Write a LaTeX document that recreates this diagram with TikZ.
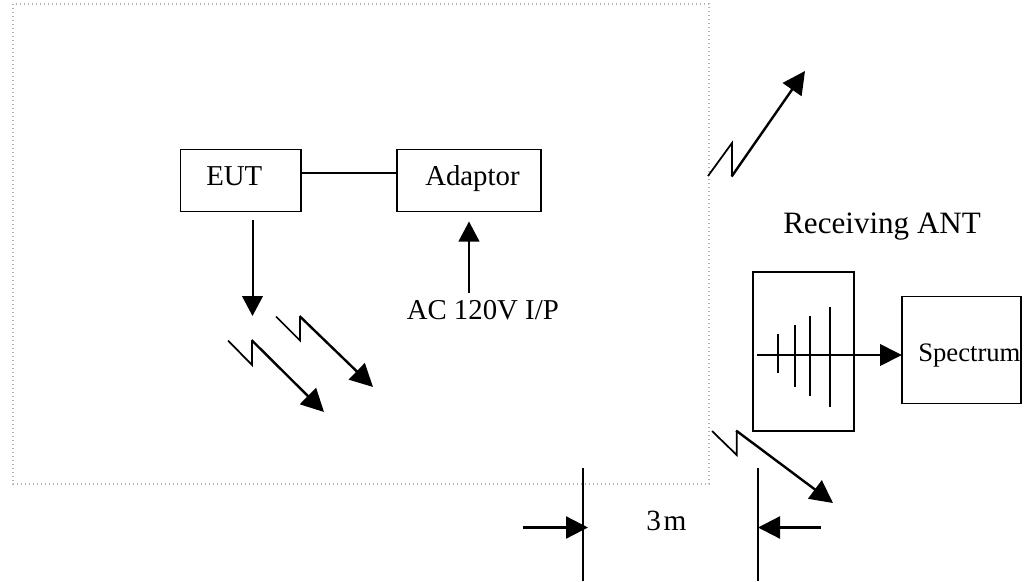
\documentclass[tikz,border=0pt]{standalone}
\usepackage{fontspec}
\setmainfont{Liberation Serif}
\usetikzlibrary{arrows.meta}
\tikzset{
  px/.style={x=0.75pt,y=-0.75pt},
  boxed/.style={draw,line width=1.4pt,anchor=north west,inner sep=0pt,outer sep=0pt},
  label text/.style={font=\fontsize{21.6}{24}\selectfont,inner sep=0pt,anchor=base west},
  wire/.style={line width=1.4pt},
  bigarrow/.style={line width=2pt,-{Triangle[length=16.5pt,width=16pt]}},
  midarrow/.style={line width=1.5pt,-{Triangle[length=15pt,width=15.5pt]}},
  boltarrow/.style={line width=1.8pt,-{Triangle[length=17pt,width=17pt]}},
  bolt/.style={line width=1.3pt,line join=miter},
  dimarrow/.style={line width=1.7pt,-{Triangle[length=16.5pt,width=16.5pt]}},
}
\begin{document}
\begin{tikzpicture}[px]
\useasboundingbox (0,0) rectangle (1033,582);
\draw[gray!60,line width=0.8pt,dash pattern=on 0.9pt off 2.1pt] (13,4) rectangle (709,484);
% boxes
\node[boxed,minimum width=90.5pt,minimum height=46.5pt] (eut) at (180.5,149.5) {};
\node[boxed,minimum width=108pt,minimum height=46.5pt] (adaptor) at (397,149.5) {};
\node[boxed,minimum width=76pt,minimum height=119.5pt] (ant) at (753,272) {};
\node[boxed,minimum width=89.25pt,minimum height=80.25pt] (spectrum) at (902,296.5) {};
% labels
\node[label text] (eutl) at (206,185) {EUT};
\node[label text] (adl) at (425,185) {Adaptor};
\node[label text] (acl) at (406.5,319.5) {AC 120V I/P};
\node[label text,font=\fontsize{23.3}{26}\selectfont] (recl) at (783,233.5) {Receiving ANT};
\node[label text,font=\fontsize{20}{24}\selectfont] (specl) at (918,361) {Spectrum};
\node[label text,font=\fontsize{22}{24}\selectfont] (threem) at (646,530) {3\kern2pt m};
% links
\draw[wire] (eut.east |- 0,173) coordinate (e1) -- (adaptor.west |- 0,173) coordinate (a1);
\coordinate (ea) at (252.5,220); \coordinate (eb) at (252.5,316);
\draw[midarrow] (ea) -- (eb);
\coordinate (aa) at (469,293); \coordinate (ab) at (469,221.5);
\draw[midarrow] (aa) -- (ab);
% bolts
\coordinate (b1a) at (276,316.5); \coordinate (b1b) at (300,340.5); \coordinate (b1c) at (300,316.5); \coordinate (b1d) at (373,387);
\draw[bolt] (b1a) -- (b1b) -- (b1c);
\draw[boltarrow,shorten <=-0.5pt] (b1c) -- (b1d);
\coordinate (b2a) at (228,340.5); \coordinate (b2b) at (252,365); \coordinate (b2c) at (252,340.5); \coordinate (b2d) at (324,412);
\draw[bolt] (b2a) -- (b2b) -- (b2c);
\draw[boltarrow,shorten <=-0.5pt] (b2c) -- (b2d);
\coordinate (b3a) at (712,431); \coordinate (b3b) at (736.7,455); \coordinate (b3c) at (736.7,431); \coordinate (b3d) at (833,503);
\draw[bolt] (b3a) -- (b3b) -- (b3c);
\draw[boltarrow,shorten <=-0.5pt] (b3c) -- (b3d);
\coordinate (b4a) at (708,176); \coordinate (b4b) at (732,143); \coordinate (b4c) at (732,176); \coordinate (b4d) at (805,71);
\draw[bolt] (b4a) -- (b4b) -- (b4c);
\draw[boltarrow,shorten <=-0.5pt] (b4c) -- (b4d);
% antenna
\coordinate (aL) at (757,355);
\draw[bigarrow] (aL) -- (spectrum.west |- aL);
\draw[wire] (778,334) coordinate (c1) -- (778,373) coordinate (c2);
\draw[wire] (794.7,325) coordinate (c3) -- (794.7,387) coordinate (c4);
\draw[wire] (810,316) coordinate (c5) -- (810,396) coordinate (c6);
\draw[wire] (830,307) coordinate (c7) -- (830,407) coordinate (c8);
% 3m
\draw[wire] (583,468) coordinate (d1) -- (583,581) coordinate (d2);
\draw[wire] (758,468) coordinate (d3) -- (758,581) coordinate (d4);
\coordinate (m1) at (523,527.5); \coordinate (m2) at (820.5,527.5); \coordinate (m1t) at (588,527.5);
\draw[dimarrow] (m1) -- (m1t);
\draw[dimarrow] (m2) -- (d3 |- m2);
\end{tikzpicture}
\end{document}
